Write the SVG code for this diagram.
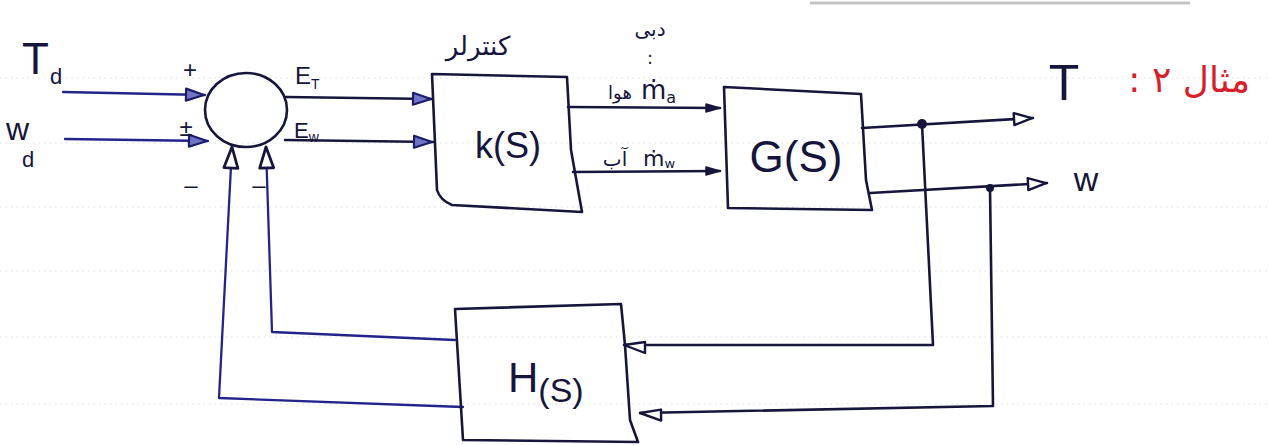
<svg xmlns="http://www.w3.org/2000/svg" width="1270" height="445" viewBox="0 0 1270 445">
  <style>
    .ink { fill: none; stroke: #16163c; stroke-width: 2.6; stroke-linejoin: round; stroke-linecap: round; }
    .blue { fill: none; stroke: #23248a; stroke-width: 2.3; stroke-linejoin: round; stroke-linecap: round; }
    .rule { stroke: #dedede; stroke-width: 1.2; stroke-dasharray: 1.5 4; }
    .lbl { font-family: "Liberation Sans", "DejaVu Sans", sans-serif; fill: #16163c; }
    .fa { font-family: "DejaVu Sans", "Noto Sans", sans-serif; fill: #16163c; }
    .red { font-family: "DejaVu Sans", "Noto Sans", sans-serif; fill: #d8202c; }
  </style>
  <defs>
    <marker id="openHead" markerUnits="userSpaceOnUse" viewBox="0 0 22 16" markerWidth="22" markerHeight="16" refX="21" refY="8" orient="auto">
      <path d="M2,2 L20,8 L2,14 Z" fill="#ffffff" stroke="#16163c" stroke-width="2.4" stroke-linejoin="round"/>
    </marker>
    <marker id="tintHead" markerUnits="userSpaceOnUse" viewBox="0 0 22 16" markerWidth="22" markerHeight="16" refX="21" refY="8" orient="auto">
      <path d="M2,2 L20,8 L2,14 Z" fill="#6f74c4" stroke="#1c1d6a" stroke-width="2.2" stroke-linejoin="round"/>
    </marker>
    <marker id="solidHead" markerUnits="userSpaceOnUse" viewBox="0 0 16 12" markerWidth="16" markerHeight="12" refX="15" refY="6" orient="auto">
      <path d="M1,2 L15,6 L1,10 Z" fill="#16163c" stroke="#16163c" stroke-width="1.5" stroke-linejoin="round"/>
    </marker>
    <marker id="upHead" markerUnits="userSpaceOnUse" viewBox="0 0 26 18" markerWidth="26" markerHeight="18" refX="24" refY="9" orient="auto">
      <path d="M3,2 L24,9 L3,16 Z" fill="#ffffff" stroke="#16163c" stroke-width="2.8" stroke-linejoin="round"/>
    </marker>
    <marker id="backHead" markerUnits="userSpaceOnUse" viewBox="0 0 24 16" markerWidth="24" markerHeight="16" refX="23" refY="10" orient="auto">
      <path d="M2,2 L23,10 L2,13 Z" fill="#ffffff" stroke="#16163c" stroke-width="2.4" stroke-linejoin="round"/>
    </marker>
  </defs>

  <rect width="1270" height="445" fill="#ffffff"/>

  <!-- ruled notebook paper -->
  <g id="paper">
    <line x1="810" y1="3" x2="1190" y2="3" stroke="#c4c4c4" stroke-width="3"/>
    <line class="rule" x1="0" y1="78" x2="1270" y2="78"/>
    <line class="rule" x1="0" y1="143" x2="1270" y2="143"/>
    <line class="rule" x1="0" y1="207" x2="1270" y2="207"/>
    <line class="rule" x1="0" y1="271" x2="1270" y2="271"/>
    <line class="rule" x1="0" y1="337" x2="1270" y2="337"/>
    <line class="rule" x1="0" y1="404" x2="1270" y2="404"/>
  </g>

  <!-- signal lines -->
  <g id="connectors">
    <!-- external inputs into the summing junction -->
    <path class="blue" d="M63,92 L205,95" marker-end="url(#tintHead)"/>
    <path class="blue" d="M65,139 L208,141" marker-end="url(#tintHead)"/>
    <!-- errors into the controller -->
    <path class="ink" d="M286,97 L432,99" marker-end="url(#tintHead)"/>
    <path class="ink" d="M285,140 L433,142" marker-end="url(#tintHead)"/>
    <!-- controller outputs into the plant -->
    <path class="ink" d="M568,107 L720,108" marker-end="url(#solidHead)"/>
    <path class="ink" d="M573,172 L720,171" marker-end="url(#solidHead)"/>
    <!-- plant outputs -->
    <path class="ink" d="M862,128 L1033,118" marker-end="url(#openHead)"/>
    <path class="ink" d="M870,193 L1047,183" marker-end="url(#openHead)"/>
    <!-- take-off points down to the sensor block -->
    <path class="ink" d="M922,124 L933,345 L624,345" marker-end="url(#backHead)"/>
    <path class="ink" d="M990,188 L993,406 L640,413" marker-end="url(#backHead)"/>
    <circle cx="922" cy="124" r="5" fill="#16163c"/>
    <circle cx="990" cy="188" r="4" fill="#16163c"/>
    <!-- measured signals back to the junction -->
    <path class="blue" d="M455,340 L272,332 L266,147" marker-end="url(#upHead)"/>
    <path class="blue" d="M463,407 L219,398 L232,147" marker-end="url(#upHead)"/>
  </g>

  <!-- summing junction -->
  <g id="sum">
    <ellipse class="ink" cx="246" cy="110" rx="41" ry="37"/>
    <text class="lbl" x="190" y="78" font-size="24" text-anchor="middle">+</text>
    <text class="lbl" x="186" y="136" font-size="24" text-anchor="middle">±</text>
    <text class="lbl" x="191" y="193" font-size="24" text-anchor="middle">–</text>
    <text class="lbl" x="259" y="193" font-size="24" text-anchor="middle">–</text>
  </g>

  <!-- controller -->
  <g id="k">
    <path class="ink" d="M432,74 L567,77 L571,150 L582,212 L452,205 Q440,200 437,190 Z"/>
    <text class="lbl" x="508" y="158" font-size="36" text-anchor="middle">k(S)</text>
    <text class="fa" x="478" y="55" font-size="26" text-anchor="middle">کنترلر</text>
  </g>

  <!-- plant -->
  <g id="g">
    <path class="ink" d="M724,87 L861,94 L866,180 L872,210 L728,208 Z"/>
    <text class="lbl" x="796" y="172" font-size="44" text-anchor="middle">G(S)</text>
  </g>

  <!-- sensor -->
  <g id="h">
    <path class="ink" d="M455,309 L621,304 L625,345 L630,420 L638,442 L463,440 Z"/>
    <text class="lbl" x="508" y="392" font-size="42">H<tspan font-size="34" dy="10">(S)</tspan></text>
  </g>

  <!-- signal names -->
  <g id="labels">
    <text class="lbl" x="22" y="74" font-size="44">T</text>
    <text class="lbl" x="50" y="84" font-size="22">d</text>
    <text class="lbl" x="6" y="140" font-size="32">w</text>
    <text class="lbl" x="22" y="167" font-size="22">d</text>
    <text class="lbl" x="295" y="84" font-size="24">E<tspan font-size="14" dy="5">T</tspan></text>
    <text class="lbl" x="294" y="138" font-size="22">E<tspan font-size="14" dy="4">w</tspan></text>
    <text class="fa" x="650" y="36" font-size="20" text-anchor="middle">دبی</text>
    <text class="fa" x="650" y="64" font-size="18" text-anchor="middle">:</text>
    <text class="fa" x="620" y="99" font-size="18" text-anchor="middle">هوا</text>
    <text class="fa" x="641" y="99" font-size="26">ṁ<tspan font-size="16" dy="4">a</tspan></text>
    <text class="fa" x="615" y="166" font-size="20" text-anchor="middle">آب</text>
    <text class="fa" x="643" y="166" font-size="22">ṁ<tspan font-size="13" dy="2">w</tspan></text>
    <text class="lbl" x="1064" y="100" font-size="50" text-anchor="middle">T</text>
    <text class="lbl" x="1086" y="191" font-size="34" text-anchor="middle">w</text>
  </g>

  <!-- heading -->
  <g id="title">
    <text class="red" x="1250" y="92" font-size="36" direction="rtl" text-anchor="start">مثال ۲ :</text>
  </g>
</svg>
